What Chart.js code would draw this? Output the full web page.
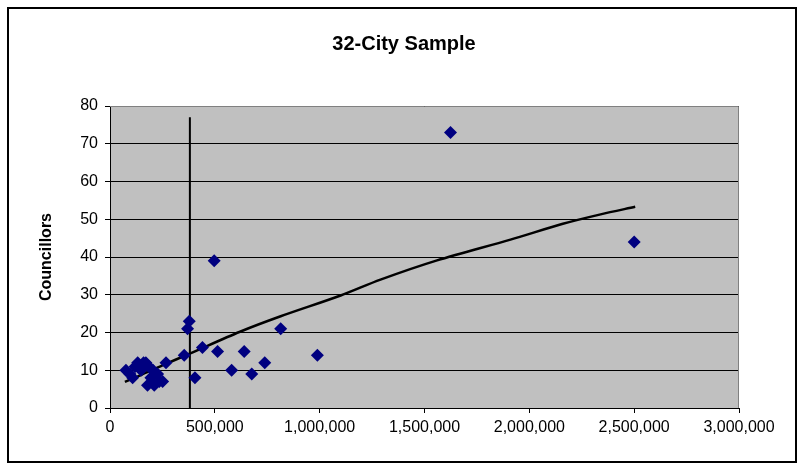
<!DOCTYPE html>
<html>
<head>
<meta charset="utf-8">
<title>32-City Sample</title>
<script src="https://cdn.jsdelivr.net/npm/chart.js@4.4.0/dist/chart.umd.min.js"></script>
<style>
    body { margin: 0; background: #fff; }
    canvas { display: block; }
</style>
</head>
<body>
<canvas id="cityChart" width="802" height="467"></canvas>
<script>
// population of each city and its number of councillors
const population = [76000, 95000, 108000, 120000, 132000, 148000, 160000, 171000,
    179000, 185000, 195000, 205000, 211000, 227000, 235000, 251000, 267000, 354000,
    370000, 378000, 405000, 441000, 497000, 513000, 580000, 640000, 676000, 738000,
    814000, 989000, 1624000, 2500000];
const councillors = [10, 9, 8, 11, 12, 10, 12, 12,
    6, 11, 8, 10, 6, 9, 7, 7, 12, 14,
    21, 23, 8, 16, 39, 15, 10, 15, 9, 12,
    21, 14, 73, 44];

// trend line as traced on the picture
const trendX = [71000, 150000, 250000, 380000, 620000, 814000, 1100000, 1290000,
    1560000, 1910000, 2160000, 2340000, 2505000];
const trendY = [6.9, 8.8, 11.3, 14.4, 20.2, 24.3, 29.8, 34.0,
    39.1, 44.6, 48.8, 51.3, 53.3];

// vertical marker line
const markerX = [381000, 381000];
const markerY = [0, 77];

const xTickLabels = ["0", "500,000", "1,000,000", "1,500,000", "2,000,000", "2,500,000", "3,000,000"];

Chart.defaults.font.family = "'Liberation Sans', Arial, sans-serif";
Chart.defaults.color = "#000";

const plotBackground = {
    id: "plotBackground",
    afterLayout(chart) {
        // title sits centred on the whole frame, not on the padded box
        chart.titleBlock.left += 16;
        chart.titleBlock.right += 16;
    },
    beforeDraw(chart) {
        const { ctx, chartArea: a } = chart;
        ctx.save();
        ctx.fillStyle = "#fff";
        ctx.fillRect(0, 0, chart.width, chart.height);
        ctx.fillStyle = "#C0C0C0";
        ctx.fillRect(a.left, a.top, a.right - a.left, a.bottom - a.top);
        ctx.restore();
    },
    afterDraw(chart) {
        const { ctx, chartArea: a } = chart;
        ctx.save();
        ctx.strokeStyle = "#808080";
        ctx.lineWidth = 1;
        ctx.beginPath();
        ctx.moveTo(a.left, a.top + 0.5);
        ctx.lineTo(a.right - 0.5, a.top + 0.5);
        ctx.lineTo(a.right - 0.5, a.bottom);
        ctx.stroke();
        // frame round the whole chart
        ctx.strokeStyle = "#000";
        ctx.lineWidth = 2;
        ctx.strokeRect(8, 8, 788, 454);
        ctx.restore();
    }
};

const toPoints = (xs, ys) => xs.map((x, i) => ({ x: x, y: ys[i] }));

new Chart(document.getElementById("cityChart"), {
    type: "scatter",
    data: {
        datasets: [
            {
                label: "Cities",
                data: toPoints(population, councillors),
                pointStyle: "rectRot",
                pointRadius: 6.5,
                pointBackgroundColor: "#000080",
                pointBorderColor: "#000080",
                pointBorderWidth: 0,
                order: 1
            },
            {
                label: "Trend",
                data: toPoints(trendX, trendY),
                showLine: true,
                borderColor: "#000",
                borderWidth: 2.5,
                pointRadius: 0,
                tension: 0.3,
                order: 2
            },
            {
                label: "Marker",
                data: toPoints(markerX, markerY),
                showLine: true,
                borderColor: "#000",
                borderWidth: 2,
                pointRadius: 0,
                order: 3
            }
        ]
    },
    options: {
        responsive: false,
        animation: false,
        devicePixelRatio: 1,
        layout: { padding: { left: 37, right: 63, top: 20, bottom: 0 } },
        plugins: {
            legend: { display: false },
            tooltip: { enabled: false },
            title: {
                display: true,
                text: "32-City Sample",
                font: { size: 20, weight: "bold" },
                color: "#000",
                padding: { top: 12, bottom: 50 }
            }
        },
        scales: {
            x: {
                type: "linear",
                min: 0,
                max: 3000000,
                afterFit(scale) { scale.height = 59; },
                ticks: {
                    stepSize: 500000,
                    font: { size: 16 },
                    padding: 5,
                    maxRotation: 0,
                    autoSkip: false,
                    callback: (value) => xTickLabels[Math.round(value / 500000)]
                },
                grid: {
                    drawOnChartArea: false,
                    tickLength: 5,
                    tickColor: "#000"
                },
                border: { color: "#000", width: 1 }
            },
            y: {
                min: 0,
                max: 80,
                afterFit(scale) { scale.width = 73; },
                ticks: { stepSize: 10, font: { size: 16 }, padding: 7 },
                grid: {
                    color: "#000",
                    lineWidth: 1,
                    tickLength: 5,
                    tickColor: "#000"
                },
                border: { color: "#000", width: 1 },
                title: {
                    display: true,
                    text: "Councillors",
                    font: { size: 16, weight: "bold" },
                    padding: 0
                }
            }
        }
    },
    plugins: [plotBackground]
});
</script>
</body>
</html>
